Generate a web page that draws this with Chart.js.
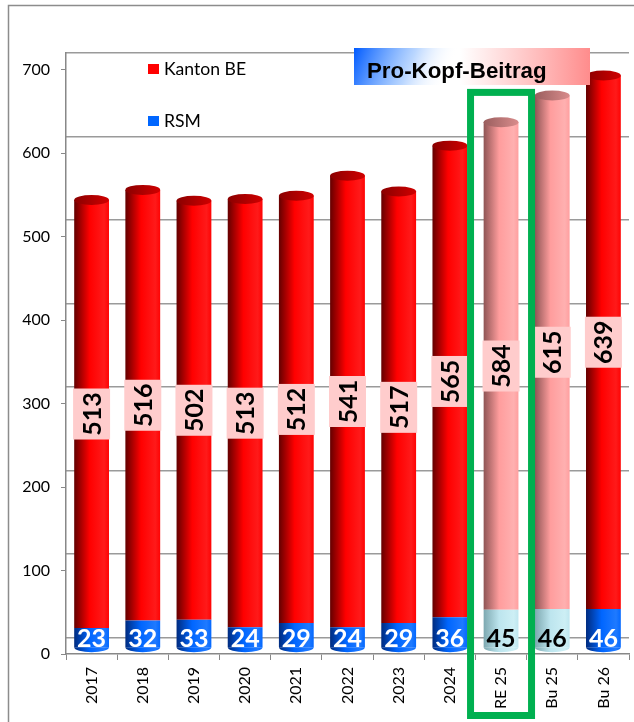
<!DOCTYPE html>
<html>
<head>
<meta charset="utf-8">
<script src="https://cdn.jsdelivr.net/npm/chart.js@4"></script>
<style>
  html, body { margin: 0; padding: 0; background: #fff; }
  #wrap { position: relative; width: 634px; height: 722px; }
</style>
</head>
<body>
<div id="wrap"><canvas id="chart" width="634" height="722"></canvas></div>
<script>
// chart data
const categories = ["2017", "2018", "2019", "2020", "2021", "2022", "2023", "2024", "RE 25", "Bu 25", "Bu 26"];
const rsmValues = [23, 32, 33, 24, 29, 24, 29, 36, 45, 46, 46];
const kantonValues = [513, 516, 502, 513, 512, 541, 517, 565, 584, 615, 639];
const yTickValues = [0, 100, 200, 300, 400, 500, 600, 700];
const lightCategories = ["RE 25", "Bu 25"];
const highlightCategory = "RE 25";
const chartTitle = "Pro-Kopf-Beitrag";

const isLight = (i) => lightCategories.includes(categories[i]);

// horizontal gradient so the bars look a bit like cylinders
function cylinder(normal, light) {
  return (c) => {
    const chart = c.chart;
    const xs = chart.scales && chart.scales.x;
    const cols = isLight(c.dataIndex) ? light : normal;
    if (!xs || c.dataIndex === undefined) return cols[1];
    const cx = xs.getPixelForValue(c.dataIndex);
    if (!isFinite(cx)) return cols[1];
    const w = 36;
    const g = chart.ctx.createLinearGradient(cx - w / 2, 0, cx + w / 2, 0);
    g.addColorStop(0, cols[0]);
    g.addColorStop(0.45, cols[1]);
    g.addColorStop(0.85, cols[2]);
    g.addColorStop(1, cols[1]);
    return g;
  };
}

const redCols = ["#5e0000", "#ff0000", "#ff1a1a"];
const pinkCols = ["#8a5252", "#ff9d9d", "#ffb0b0"];
const blueCols = ["#00297a", "#0066ff", "#1f7aff"];
const cyanCols = ["#7ba6ae", "#bde5ee", "#cdeff5"];

// caps, value labels, legend, title, highlight box
const decorations = {
  id: "decorations",
  afterDatasetsDraw(chart) {
    const ctx = chart.ctx;
    const rsmMeta = chart.getDatasetMeta(0);
    const kanMeta = chart.getDatasetMeta(1);

    // rounded bottoms
    rsmMeta.data.forEach((el) => {
      ctx.save();
      ctx.fillStyle = el.options.backgroundColor;
      ctx.beginPath();
      ctx.ellipse(el.x, el.base, el.width / 2, 5, 0, 0, Math.PI);
      ctx.fill();
      ctx.restore();
    });

    // top caps of the cylinders
    kanMeta.data.forEach((el, i) => {
      const rx = el.width / 2;
      const g = ctx.createLinearGradient(el.x - rx, 0, el.x + rx, 0);
      if (isLight(i)) {
        g.addColorStop(0, "#9a5e5e");
        g.addColorStop(1, "#d98c8c");
      } else {
        g.addColorStop(0, "#8a0000");
        g.addColorStop(1, "#d00000");
      }
      ctx.save();
      ctx.fillStyle = g;
      ctx.beginPath();
      ctx.ellipse(el.x, el.y, rx, 5, 0, 0, Math.PI * 2);
      ctx.fill();
      ctx.restore();
    });

    // Kanton BE labels (rotated, pink boxes)
    kanMeta.data.forEach((el, i) => {
      const cy = (el.y + el.base) / 2;
      ctx.save();
      ctx.fillStyle = "#ffcccc";
      ctx.fillRect(el.x - 18.5, cy - 25.5, 37, 51);
      ctx.translate(el.x, cy);
      ctx.rotate(-Math.PI / 2);
      ctx.fillStyle = "#000";
      ctx.font = "bold 25px Lato";
      ctx.textAlign = "center";
      ctx.textBaseline = "middle";
      ctx.fillText(String(kantonValues[i]), 0, 1);
      ctx.restore();
    });

    // RSM labels
    rsmMeta.data.forEach((el, i) => {
      ctx.save();
      ctx.fillStyle = isLight(i) ? "#000" : "#fff";
      ctx.font = "bold 25px Lato";
      ctx.textAlign = "center";
      ctx.textBaseline = "middle";
      ctx.fillText(String(rsmValues[i]), el.x, el.base - 8);
      ctx.restore();
    });
  },
  afterDraw(chart) {
    const ctx = chart.ctx;
    const xs = chart.scales.x;
    const ys = chart.scales.y;

    // outer frame
    ctx.save();
    ctx.strokeStyle = "#8c8c8c";
    ctx.lineWidth = 1.5;
    ctx.strokeRect(8.5, 5.5, 700, 800);
    ctx.restore();

    // legend
    const legendItems = [
      { text: chart.data.datasets[1].label, color: "#ff0000", y: 69 },
      { text: chart.data.datasets[0].label, color: "#0066ff", y: 121 }
    ];
    ctx.save();
    ctx.font = "16px Lato";
    const lsize = 16 * 82 / ctx.measureText(legendItems[0].text).width;
    legendItems.forEach((it) => {
      ctx.fillStyle = it.color;
      ctx.fillRect(148, it.y - 5, 11, 10);
      ctx.fillStyle = "#000";
      ctx.font = lsize.toFixed(1) + "px Lato";
      ctx.textBaseline = "middle";
      ctx.fillText(it.text, 164, it.y);
    });
    ctx.restore();

    // title box
    ctx.save();
    const bx = 354, by = 48, bw = 236, bh = 37;
    ctx.fillStyle = "#fff";
    ctx.fillRect(bx, by, bw, bh);
    const pg = ctx.createLinearGradient(bx, 0, bx + bw, 0);
    pg.addColorStop(0, "rgba(255,150,150,0)");
    pg.addColorStop(0.45, "rgba(255,150,150,0)");
    pg.addColorStop(1, "rgba(255,140,140,1)");
    ctx.fillStyle = pg;
    ctx.fillRect(bx, by, bw, bh);
    const bg = ctx.createLinearGradient(bx, by, bx + 90, by + bh);
    bg.addColorStop(0, "rgba(0,90,255,1)");
    bg.addColorStop(0.6, "rgba(60,140,255,0.35)");
    bg.addColorStop(1, "rgba(255,255,255,0)");
    ctx.fillStyle = bg;
    ctx.fillRect(bx, by, bw, bh);
    ctx.font = "bold 20px 'Liberation Sans'";
    const tw = ctx.measureText(chartTitle).width;
    const size = 20 * 180 / tw;
    ctx.font = "bold " + size.toFixed(1) + "px 'Liberation Sans'";
    ctx.fillStyle = "#000";
    ctx.textBaseline = "middle";
    ctx.fillText(chartTitle, 367, 72);
    ctx.restore();

    // highlight box around the current-year estimate
    const hi = categories.indexOf(highlightCategory);
    const cx = xs.getPixelForValue(hi);
    const top = ys.getPixelForValue(677);
    ctx.save();
    ctx.strokeStyle = "#00b050";
    ctx.lineWidth = 7;
    ctx.strokeRect(cx - 34 + 3.5, top + 3.5, 68 - 7, 719 - top - 7);
    ctx.restore();
  }
};

const ctx = document.getElementById("chart");
new Chart(ctx, {
  type: "bar",
  data: {
    labels: categories,
    datasets: [
      {
        label: "RSM",
        data: rsmValues,
        backgroundColor: cylinder(blueCols, cyanCols),
        borderWidth: 0,
        barPercentage: 0.68,
        categoryPercentage: 1.0,
        yAxisID: "bars"
      },
      {
        label: "Kanton BE",
        data: kantonValues,
        backgroundColor: cylinder(redCols, pinkCols),
        borderWidth: 0,
        barPercentage: 0.68,
        categoryPercentage: 1.0,
        yAxisID: "bars"
      }
    ]
  },
  options: {
    responsive: false,
    animation: false,
    devicePixelRatio: 1,
    layout: { padding: { top: 53, right: 5, left: 0, bottom: 0 } },
    plugins: {
      legend: { display: false },
      tooltip: { enabled: false }
    },
    scales: {
      x: {
        stacked: true,
        ticks: {
          font: { family: "Lato", size: 16 },
          color: "#000",
          minRotation: 90,
          maxRotation: 90,
          padding: 7
        },
        grid: { drawOnChartArea: false, tickLength: 6, color: "#888", offset: true },
        border: { color: "#888", width: 1.5 },
        afterFit: (s) => { s.height = 68; }
      },
      y: {
        position: "left",
        min: 0,
        max: 720,
        afterBuildTicks: (s) => { s.ticks = yTickValues.map((v) => ({ value: v })); },
        ticks: { font: { family: "Lato", size: 16 }, color: "#000", padding: 11 },
        grid: { drawOnChartArea: false, tickLength: 5, color: "#888" },
        border: { color: "#888", width: 1.5 },
        afterFit: (s) => { s.width = 66; }
      },
      // back-wall gridlines, shifted up like the 3D original
      wall: {
        type: "linear",
        position: "left",
        min: -20,
        max: 700,
        afterBuildTicks: (s) => { s.ticks = yTickValues.map((v) => ({ value: v })); },
        ticks: { display: false },
        grid: { color: "#9a9a9a", lineWidth: 1.5, drawTicks: false },
        border: { display: false },
        afterFit: (s) => { s.width = 0; }
      },
      // the cylinders stand a little behind the front axis
      bars: {
        type: "linear",
        stacked: true,
        display: false,
        min: -8,
        max: 712
      }
    }
  },
  plugins: [decorations]
});
</script>
</body>
</html>
